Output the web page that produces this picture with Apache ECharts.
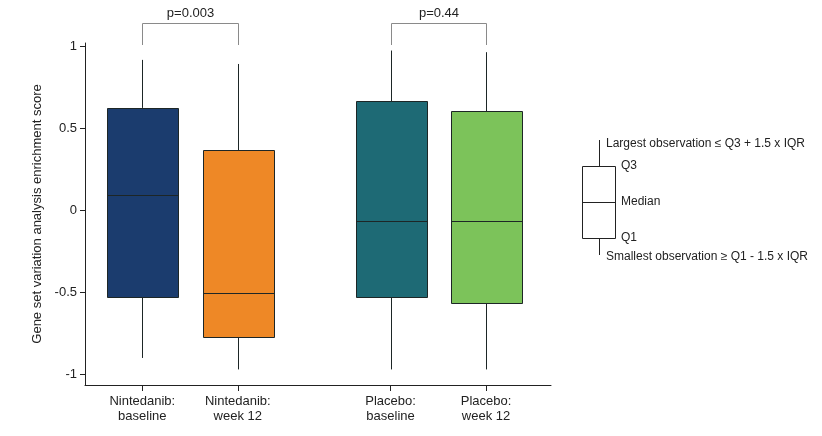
<!DOCTYPE html>
<html>
<head>
<meta charset="utf-8">
<script src="https://cdn.jsdelivr.net/npm/echarts@6/dist/echarts.min.js"></script>
<style>
html,body{margin:0;padding:0;background:#fff;}
#chart{width:822px;height:436px;}
</style>
</head>
<body>
<div id="chart"></div>
<script>
// ---- data ----
const categories = ['Nintedanib:\nbaseline', 'Nintedanib:\nweek 12', 'Placebo:\nbaseline', 'Placebo:\nweek 12'];
const slotPositions = [3, 8, 16, 21];        // category slots on the x scale (gap between groups)
const whiskerLow = [-0.90, -0.97, -0.97, -0.97];
const q1Values   = [-0.53, -0.774, -0.53, -0.567];
const medians    = [0.093, -0.506, -0.066, -0.066];
const q3Values   = [0.626, 0.369, 0.668, 0.607];
const whiskerHigh = [0.919, 0.894, 0.976, 0.966];
const pValues = ['p=0.003', 'p=0.44'];
const pPairs = [[0, 1], [2, 3]];
const yTicks = [-1, -0.5, 0, 0.5, 1];
const boxColors = ['#1b3c6e', '#ee8826', '#1e6a75', '#7cc35a'];

const FONT = '"Liberation Sans", Arial, Helvetica, sans-serif';
const chart = echarts.init(document.getElementById('chart'));

const boxData = categories.map((c, i) => [slotPositions[i], whiskerLow[i], q1Values[i], medians[i], q3Values[i], whiskerHigh[i], i]);
const bracketData = pPairs.map((p, i) => [slotPositions[p[0]], slotPositions[p[1]], i]);

const BOX_W = 3.72;

chart.setOption({
  animation: false,
  textStyle: { fontFamily: FONT },
  grid: { left: 85, right: 271, top: 43, bottom: 51, containLabel: false },
  xAxis: {
    type: 'value', min: 0, max: 24.4,
    splitLine: { show: false },
    axisLine: { show: true, onZero: false, lineStyle: { color: '#222', width: 1 } },
    axisTick: { show: true, length: 6, lineStyle: { color: '#222' }, customValues: slotPositions },
    axisLabel: {
      show: true, customValues: slotPositions, margin: 9,
      color: '#222', fontSize: 13, lineHeight: 15, fontFamily: FONT,
      formatter: v => { const i = slotPositions.indexOf(v); return i >= 0 ? categories[i] : ''; }
    }
  },
  yAxis: {
    type: 'value', min: -1.065, max: 1.022,
    name: 'Gene set variation analysis enrichment score',
    nameLocation: 'middle', nameGap: 40, nameRotate: 90,
    nameTextStyle: { color: '#222', fontSize: 13, fontFamily: FONT },
    splitLine: { show: false },
    axisLine: { show: true, onZero: false, lineStyle: { color: '#222', width: 1 } },
    axisTick: { show: true, length: 5, lineStyle: { color: '#222' }, customValues: yTicks },
    axisLabel: { show: true, customValues: yTicks, margin: 8, color: '#222', fontSize: 13, fontFamily: FONT,
      formatter: v => String(v) }
  },
  series: [
    {
      type: 'custom',
      data: boxData,
      encode: { x: 0, y: [1, 2, 3, 4, 5] },
      renderItem: function (params, api) {
        const x = api.value(0);
        const w = api.size([BOX_W, 0])[0];
        const pLow = api.coord([x, api.value(1)]);
        const pQ1 = api.coord([x, api.value(2)]);
        const pMed = api.coord([x, api.value(3)]);
        const pQ3 = api.coord([x, api.value(4)]);
        const pHigh = api.coord([x, api.value(5)]);
        const cx = Math.round(pLow[0]) + 0.5;
        const color = boxColors[api.value(6)];
        const st = { stroke: '#1d2626', lineWidth: 1 };
        return {
          type: 'group',
          children: [
            { type: 'line', shape: { x1: cx, y1: pLow[1], x2: cx, y2: pQ1[1] }, style: st },
            { type: 'line', shape: { x1: cx, y1: pHigh[1], x2: cx, y2: pQ3[1] }, style: st },
            { type: 'rect', shape: { x: Math.round(cx - w / 2) + 0.5, y: Math.round(pQ3[1]) + 0.5, width: Math.round(w), height: Math.round(pQ1[1] - pQ3[1]) },
              style: { fill: color, stroke: '#1d2626', lineWidth: 1 } },
            { type: 'line', shape: { x1: Math.round(cx - w / 2), y1: Math.round(pMed[1]) + 0.5, x2: Math.round(cx + w / 2), y2: Math.round(pMed[1]) + 0.5 }, style: st }
          ]
        };
      },
      z: 5
    },
    {
      type: 'custom',
      clip: false,
      data: bracketData,
      encode: { x: [0, 1] },
      renderItem: function (params, api) {
        const a = api.coord([api.value(0), 1]);
        const b = api.coord([api.value(1), 1]);
        const xa = Math.round(a[0]) + 0.5, xb = Math.round(b[0]) + 0.5;
        const yTop = Math.round(a[1] - 24) + 0.5;
        const yBot = Math.round(a[1] - 2);
        const st = { stroke: '#8a8a8a', lineWidth: 1, fill: null };
        return {
          type: 'group',
          children: [
            { type: 'polyline', shape: { points: [[xa, yBot], [xa, yTop], [xb, yTop], [xb, yBot]] }, style: st },
            { type: 'text', style: { text: pValues[api.value(2)], x: (xa + xb) / 2, y: yTop - 10, align: 'center', verticalAlign: 'middle',
              fill: '#222', fontSize: 13, fontFamily: FONT } }
          ]
        };
      },
      z: 6
    }
  ],
  graphic: [
    { type: 'line', shape: { x1: 599.5, y1: 140, x2: 599.5, y2: 167 }, style: { stroke: '#222', lineWidth: 1 } },
    { type: 'line', shape: { x1: 599.5, y1: 238, x2: 599.5, y2: 255 }, style: { stroke: '#222', lineWidth: 1 } },
    { type: 'rect', shape: { x: 582.5, y: 166.5, width: 33, height: 72 }, style: { fill: '#fff', stroke: '#222', lineWidth: 1 } },
    { type: 'line', shape: { x1: 582, y1: 202.5, x2: 616, y2: 202.5 }, style: { stroke: '#222', lineWidth: 1 } },
    { type: 'text', style: { text: 'Largest observation \u2264 Q3 + 1.5 x IQR', x: 606, y: 144, verticalAlign: 'middle', fill: '#222', fontSize: 12, fontFamily: FONT } },
    { type: 'text', style: { text: 'Q3', x: 621, y: 166, verticalAlign: 'middle', fill: '#222', fontSize: 12, fontFamily: FONT } },
    { type: 'text', style: { text: 'Median', x: 621, y: 202, verticalAlign: 'middle', fill: '#222', fontSize: 12, fontFamily: FONT } },
    { type: 'text', style: { text: 'Q1', x: 621, y: 238, verticalAlign: 'middle', fill: '#222', fontSize: 12, fontFamily: FONT } },
    { type: 'text', style: { text: 'Smallest observation \u2265 Q1 - 1.5 x IQR', x: 606, y: 257, verticalAlign: 'middle', fill: '#222', fontSize: 12, fontFamily: FONT } }
  ]
});
</script>
</body>
</html>
